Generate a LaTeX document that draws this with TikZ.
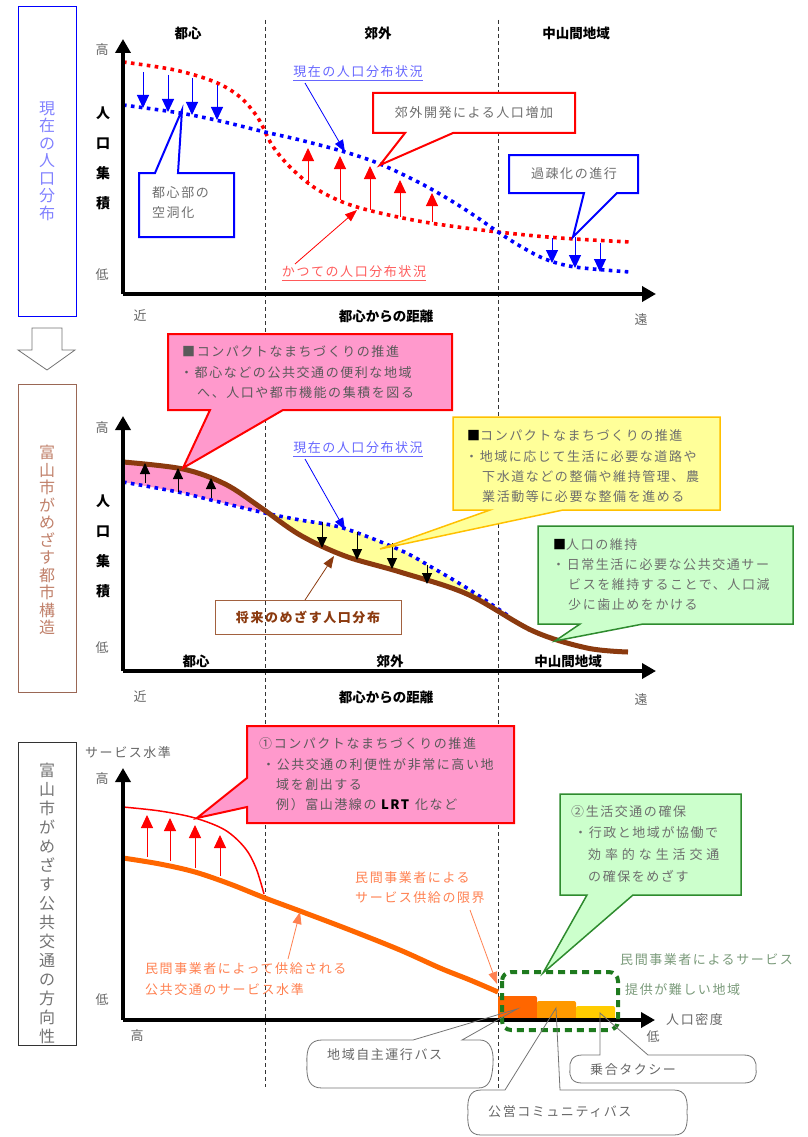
\documentclass[tikz,border=0pt]{standalone}
\usepackage{fontspec}
\setmainfont{Noto Sans CJK JP}
\newfontfamily\cl[LetterSpace=12]{Noto Sans CJK JP}
\newfontfamily\clw[LetterSpace=30]{Noto Sans CJK JP}
\usetikzlibrary{arrows.meta}
\definecolor{cblue}{HTML}{0000FF}
\definecolor{cred}{HTML}{FF0000}
\definecolor{cbrown}{HTML}{8B3A0F}
\definecolor{cpink}{HTML}{FF99CC}
\definecolor{cyel}{HTML}{FFFF99}
\definecolor{cyelb}{HTML}{FFC000}
\definecolor{cgreen}{HTML}{CCFFCC}
\definecolor{cgreenb}{HTML}{2E8B2E}
\definecolor{cdgreen}{HTML}{1E7A1E}
\definecolor{corange}{HTML}{FF6600}
\definecolor{corange2}{HTML}{FF9900}
\definecolor{cyellow2}{HTML}{FFCC00}
\definecolor{tgray}{HTML}{6E6E6E}
\definecolor{tdark}{HTML}{5A5A5A}
\definecolor{tblue}{HTML}{6666FF}
\definecolor{tlblue}{HTML}{8080FF}
\definecolor{tred}{HTML}{FF5A5A}
\definecolor{tbrownbox}{HTML}{C0806A}
\definecolor{tcoral}{HTML}{FF8050}
\definecolor{tgreen}{HTML}{7A9A7A}
\tikzset{
  ax/.style={line width=3.5pt,-{Triangle[width=15pt,length=14pt]}},
  vdash/.style={line width=0.8pt,dash pattern=on 4pt off 3pt,black!80},
  rdot/.style={cred,line width=3.6pt,dash pattern=on 3.6pt off 4.4pt},
  bdot/.style={cblue,line width=3.6pt,dash pattern=on 3.6pt off 4.4pt},
  upr/.style={cred,line width=1pt,-{Triangle[width=12pt,length=13pt]}},
  dnb/.style={cblue,line width=1pt,-{Triangle[width=12pt,length=13pt]}},
  blk/.style={black,line width=1pt,-{Triangle[width=10pt,length=11pt]}},
  ptr/.style={line width=0.8pt,-{Triangle[width=9pt,length=12pt]}},
  lbl/.style={font=\fontsize{13.5}{15}\selectfont\bfseries,inner sep=0pt},
  axl/.style={font=\fontsize{13}{15}\selectfont,text=black!60,inner sep=0pt},
  ct/.style={font=\cl\fontsize{13}{15}\selectfont,anchor=west,inner sep=0pt},
  vt/.style={align=center,inner sep=0pt},
  cbox/.style={line width=2pt,line join=miter,fill=white},
  bub/.style={black!55,line width=0.8pt},
}
\begin{document}
\begin{tikzpicture}[x=1pt,y=-1pt]
\useasboundingbox (0,0) rectangle (807,1137);
% dashed zone separators
\draw[vdash] (265,20) -- (265,1087);
\draw[vdash] (498,20) -- (498,1090);

%================ PANEL 1 =================
\draw[blue,line width=0.8pt] (18,6) rectangle (76,316);
\node[vt,text=tlblue,font=\fontsize{16}{17.5}\selectfont] (t1) at (47,161) {現\\在\\の\\人\\口\\分\\布};
\node[lbl] (h1a) at (188,33) {都心};
\node[lbl] (h1b) at (378,33) {郊外};
\node[lbl] (h1c) at (576,33) {中山間地域};
\node[axl] (hi1) at (102,50) {高};
\node[axl] (lo1) at (102,275) {低};
\node[axl] (ne1) at (140,316) {近};
\node[axl] (fa1) at (641,320) {遠};
\node[lbl] (dx1) at (386,316) {都心からの距離};
\node[vt,font=\fontsize{14}{30}\selectfont\bfseries] (yl1) at (103,158) {人\\口\\集\\積};
% curves
\draw[rdot] plot[smooth,tension=0.55] coordinates {(123,62) (175,70) (215,82) (240,97) (258,118) (272,145) (290,167) (315,188) (345,203) (380,213) (430,223) (498,232) (560,238) (630,242)};
\draw[bdot] plot[smooth,tension=0.55] coordinates {(123,105) (180,113) (220,121) (265,132) (300,140) (345,152) (380,164) (420,183) (450,200) (475,216) (498,232) (520,246) (545,259) (575,267) (630,272)};
% arrows
\foreach \x/\a/\b in {143/72/108,168/75/112,192/78/115,217/85/120} \draw[dnb] (\x,\a) -- (\x,\b);
\foreach \x/\a/\b in {552/238/263,575/237/268,600/243/272} \draw[dnb] (\x,\a) -- (\x,\b);
\foreach \x/\a/\b in {308/185/148,340/200/156,370/210/166,400/217/180,432/222/193} \draw[upr] (\x,\a) -- (\x,\b);
% axes
\coordinate (o1) at (123,294);
\draw[ax] (o1) -- (123,39);
\draw[ax] (o1) -- (656,294);
% labels with pointers
\node[ct,anchor=center,text=tblue] (now1) at (358,72) {現在の人口分布状況};
\draw[tblue,line width=0.8pt] ([yshift=-2pt]now1.south west) -- ([yshift=-2pt]now1.south east);
\coordinate (now1t) at (345,152);
\draw[ptr,cblue] (305,83) -- (now1t);
\node[ct,anchor=center,text=tred] (past1) at (354,272) {かつての人口分布状況};
\draw[tred,line width=0.8pt] ([yshift=-2pt]past1.south west) -- ([yshift=-2pt]past1.south east);
\coordinate (past1t) at (357,210);
\draw[ptr,cred] (295,264) -- (past1t);
% callouts
\draw[cbox,draw=cred] (373,93) -- (575,93) -- (575,133) -- (453,133) -- (380,165) -- (405,133) -- (373,133) -- cycle;
\node[ct,anchor=center,text=tgray] (c1) at (474,113) {郊外開発による人口増加};
\draw[cbox,draw=cblue] (139,173) -- (155,173) -- (182,110) -- (178,173) -- (234,173) -- (234,237) -- (139,237) -- cycle;
\node[ct,text=tgray] (c2a) at (152,193) {都心部の};
\node[ct,text=tgray] (c2b) at (152,213) {空洞化};
\draw[cbox,draw=cblue] (509,155) -- (638,155) -- (638,193) -- (617,193) -- (573,237) -- (584,193) -- (509,193) -- cycle;
\node[ct,anchor=center,text=tgray] (c3) at (574,174) {過疎化の進行};

% big hollow arrow
\draw[black!55,line width=0.8pt,fill=white] (32,328) -- (62,328) -- (62,350) -- (75,350) -- (47,370) -- (18,350) -- (32,350) -- cycle;

%================ PANEL 2 =================
\draw[tbrownbox!80!black,line width=0.8pt] (18,384) rectangle (76,692);
\node[vt,text=tbrownbox,font=\fontsize{16}{17.5}\selectfont] (t2) at (47,540) {富\\山\\市\\が\\め\\ざ\\す\\都\\市\\構\\造};
\node[axl] (hi2) at (102,428) {高};
\node[axl] (lo2) at (102,648) {低};
\node[axl] (ne2) at (140,697) {近};
\node[axl] (fa2) at (641,700) {遠};
\node[lbl] (dx2) at (386,697) {都心からの距離};
\node[lbl] (h2a) at (196,661) {都心};
\node[lbl] (h2b) at (390,661) {郊外};
\node[lbl] (h2c) at (568,661) {中山間地域};
\node[vt,font=\fontsize{14}{30}\selectfont\bfseries] (yl2) at (103,546) {人\\口\\集\\積};
% fills
\fill[cpink] plot[smooth,tension=0.55] coordinates {(123,462) (183,469) (225,484) (260,507) (266,511)} -- plot[smooth,tension=0.55] coordinates {(266,513) (211,500) (178,492) (123,482)} -- cycle;
\fill[cyel] plot[smooth,tension=0.55] coordinates {(264,512) (300,520) (343,528) (400,550) (433,568) (470,590) (505,614)} -- plot[smooth,tension=0.55] coordinates {(505,615) (467,594) (400,572) (345,556) (300,535) (264,510)} -- cycle;
\draw[bdot] plot[smooth,tension=0.55] coordinates {(123,482) (178,492) (211,500) (265,513) (300,520) (343,528) (400,550) (433,568) (470,590) (510,617)};
\draw[cbrown,line width=5pt] plot[smooth,tension=0.55] coordinates {(123,462) (183,469) (225,484) (260,507) (300,535) (345,556) (400,572) (467,594) (533,631) (587,648) (628,652)};
\foreach \x/\a/\b in {145/483/463,178/492/468,211/498/478} \draw[blk] (\x,\a) -- (\x,\b);
\foreach \x/\a/\b in {322/522/548,357/532/560,392/543/569,427/565/584} \draw[blk] (\x,\a) -- (\x,\b);
\coordinate (o2) at (123,671);
\draw[ax] (o2) -- (123,416);
\draw[ax] (o2) -- (656,671);
% labels
\node[ct,anchor=center,text=tblue] (now2) at (358,448) {現在の人口分布状況};
\draw[tblue,line width=0.8pt] ([yshift=-2pt]now2.south west) -- ([yshift=-2pt]now2.south east);
\coordinate (now2t) at (345,530);
\draw[ptr,cblue] (305,459) -- (now2t);
\draw[cbrown!80!white,line width=1pt] (215,600) rectangle (401,634);
\node[ct,anchor=center,text=cbrown,font=\cl\fontsize{13}{15}\selectfont\bfseries] (fut) at (308,617) {将来のめざす人口分布};
\coordinate (futt) at (334,556);
\draw[ptr,cbrown] (305,600) -- (futt);
% callouts
\draw[cbox,draw=cred,fill=cpink] (168,334) -- (452,334) -- (452,410) -- (283,410) -- (183,468) -- (210,410) -- (168,410) -- cycle;
\node[ct,text=tdark] (p1) at (182,352) {■コンパクトなまちづくりの推進};
\node[ct,text=tdark] (p2) at (180,373) {・都心などの公共交通の便利な地域};
\node[ct,text=tdark] (p3) at (197,393) {へ、人口や都市機能の集積を図る};
\draw[draw=cyelb,line width=1.5pt,fill=cyel] (453,417) -- (720,417) -- (720,510) -- (563,510) -- (380,549) -- (490,510) -- (453,510) -- cycle;
\node[ct,text=tgray] (y1) at (467,436) {\textcolor{black}{■}コンパクトなまちづくりの推進};
\node[ct,text=tgray] (y2) at (465,457) {・地域に応じて生活に必要な道路や};
\node[ct,text=tgray] (y3) at (482,477) {下水道などの整備や維持管理、農};
\node[ct,text=tgray] (y4) at (482,497) {業活動等に必要な整備を進める};
\draw[draw=cgreenb,line width=1.5pt,fill=cgreen] (538,526) -- (793,526) -- (793,624) -- (643,624) -- (555,641) -- (580,624) -- (538,624) -- cycle;
\node[ct,text=tgray] (g1) at (553,545) {\textcolor{black}{■}人口の維持};
\node[ct,text=tgray] (g2) at (552,565) {・日常生活に必要な公共交通サー};
\node[ct,text=tgray] (g3) at (568,585) {ビスを維持することで、人口減};
\node[ct,text=tgray] (g4) at (568,605) {少に歯止めをかける};

%================ PANEL 3 =================
\draw[black!80,line width=0.8pt] (18,742) rectangle (76,1045);
\node[vt,text=black!55,font=\fontsize{16}{19}\selectfont] (t3) at (47,903) {富\\山\\市\\が\\め\\ざ\\す\\公\\共\\交\\通\\の\\方\\向\\性};
\node[ct,text=black!60] (sv) at (85,753) {サービス水準};
\node[axl] (hi3) at (102,779) {高};
\node[axl] (lo3) at (102,1000) {低};
\node[axl] (hx3) at (137,1036) {高};
\node[axl] (lx3) at (653,1037) {低};
\node[ct,text=black!60] (pd) at (666,1020) {人口密度};
% curves
\draw[cred,line width=1.5pt] plot[smooth,tension=0.55] coordinates {(123,807) (160,811) (195,818) (225,830) (245,848) (256,868) (264,894)};
\foreach \x/\a/\b in {147/857/815,170/861/818,195/868/825,220/876/835} \draw[upr] (\x,\a) -- (\x,\b);
\draw[corange,line width=5pt] plot[smooth,tension=0.55] coordinates {(123,858) (160,864) (195,872) (230,884) (265,898) (300,911) (350,930) (400,950) (440,968) (470,980) (498,992)};
% bars
\fill[corange,rounded corners=2pt] (498,1020) -- (498,996) -- (537,996) -- (537,1020) -- cycle;
\fill[corange2,rounded corners=2pt] (537,1020) -- (537,1001) -- (576,1001) -- (576,1020) -- cycle;
\fill[cyellow2,rounded corners=2pt] (576,1020) -- (576,1006) -- (615,1006) -- (615,1020) -- cycle;
\coordinate (o3) at (123,1020);
\draw[ax] (o3) -- (123,768);
\draw[ax] (o3) -- (655,1020);
\draw[cdgreen,line width=4pt,dash pattern=on 7pt off 5pt,rounded corners=9pt] (502,972) rectangle (618,1030);
% orange labels
\node[ct,text=tcoral] (o1a) at (145,969) {民間事業者によって供給される};
\node[ct,text=tcoral] (o1b) at (145,990) {公共交通のサービス水準};
\coordinate (o1t) at (300,912);
\draw[ptr,tcoral] (288,959) -- (o1t);
\node[ct,text=tcoral] (o2a) at (355,878) {民間事業者による};
\node[ct,text=tcoral] (o2b) at (355,898) {サービス供給の限界};
\coordinate (o2t) at (497,984);
\draw[ptr,tcoral] (470,910) -- (o2t);
\node[ct,text=tgreen] (gg1) at (620,960) {民間事業者によるサービス};
\node[ct,text=tgreen] (gg2) at (625,990) {提供が難しい地域};
% callouts
\draw[cbox,draw=cred,fill=cpink] (247,726) -- (514,726) -- (514,823) -- (247,823) -- (247,807) -- (197,818) -- (247,778) -- cycle;
\node[ct,text=tdark] (q1) at (259,744) {①コンパクトなまちづくりの推進};
\node[ct,text=tdark] (q2) at (262,765) {・公共交通の利便性が非常に高い地};
\node[ct,text=tdark] (q3) at (276,785) {域を創出する};
\node[ct,text=tdark] (q4) at (276,805) {例）富山港線の \textcolor{black}{\textbf{LRT}} 化など};
\draw[draw=cgreenb,line width=1.5pt,fill=cgreen] (560,794) -- (741,794) -- (741,895) -- (633,895) -- (543,973) -- (587,895) -- (560,895) -- cycle;
\node[ct,text=tgray] (r1) at (571,812) {②生活交通の確保};
\node[ct,text=tgray] (r2) at (574,833) {・行政と地域が協働で};
\node[ct,text=tgray,font=\clw\fontsize{13}{15}\selectfont] (r3) at (588,855) {効率的な生活交通};
\node[ct,text=tgray] (r4) at (588,876) {の確保をめざす};
% bubbles
\draw[bub] (413,1040) -- (517,1009) -- (462,1040) -- (480,1040) .. controls (490,1040) and (494,1050) .. (493,1064) .. controls (492,1080) and (489,1088) .. (478,1088) -- (322,1088) .. controls (310,1088) and (306,1080) .. (307,1064) .. controls (306,1048) and (310,1040) .. (322,1040) -- cycle;
\node[ct,text=black!60] (b1) at (327,1055) {地域自主運行バス};
\draw[bub] (600,1055) -- (600,1013) -- (648,1055) -- (744,1055) .. controls (754,1055) and (757,1062) .. (756,1069) .. controls (757,1077) and (754,1083) .. (744,1083) -- (582,1083) .. controls (572,1083) and (569,1077) .. (570,1069) .. controls (569,1062) and (572,1055) .. (582,1055) -- cycle;
\node[ct,text=black!60] (b2) at (590,1070) {乗合タクシー};
\draw[bub] (505,1090) -- (556,1008) -- (560,1090) -- (674,1090) .. controls (686,1090) and (688,1100) .. (687,1112) .. controls (688,1126) and (686,1135) .. (674,1135) -- (481,1135) .. controls (469,1135) and (467,1126) .. (468,1112) .. controls (467,1100) and (469,1090) .. (481,1090) -- cycle;
\node[ct,text=black!60] (b3) at (488,1112) {公営コミュニティバス};
\end{tikzpicture}
\end{document}
